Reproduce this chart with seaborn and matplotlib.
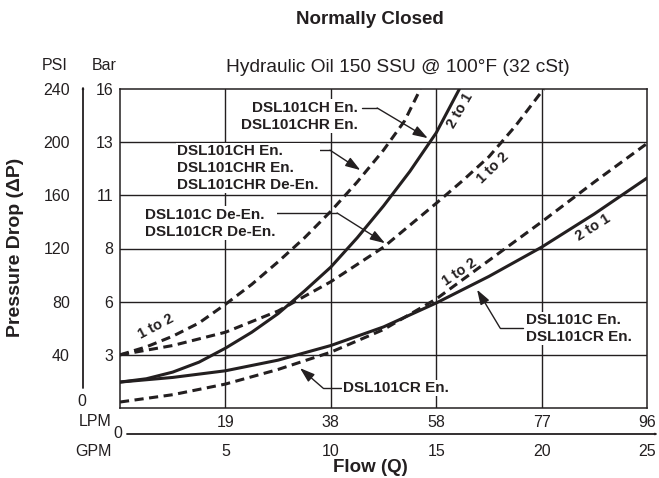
import matplotlib
matplotlib.use("Agg")
import matplotlib.pyplot as plt
import numpy as np
import pandas as pd
import seaborn as sns

# Flow (GPM) vs pressure drop (PSI)
ch_en_gpm = [0, 1.25, 2.5, 3.75, 5, 6.25, 7.5, 8.75, 10, 11.25, 12.5, 13.75, 15, 16.1]
ch_en_psi = [19.5, 22, 27, 34.5, 45, 57, 71, 88, 106, 128, 152, 178, 207, 240]

chr_de_gpm = [0, 1.25, 2.5, 3.75, 5, 6.25, 7.5, 8.75, 10, 11.25, 12.5, 13.5, 14.25]
chr_de_psi = [40, 46, 54, 64, 78, 93, 110, 128, 148, 170, 194, 216, 240]

c_de_gpm = [0, 2.5, 5, 7.5, 10, 12.5, 15, 16.25, 17.5, 18.75, 20.1]
c_de_psi = [40, 47, 57, 73, 95, 121, 154, 171, 189, 212, 240]

c_en_gpm = [0, 2.5, 5, 7.5, 10, 12.5, 15, 17.5, 20, 22.5, 25]
c_en_psi = [19.5, 23, 28, 36, 47, 61, 79, 99, 121, 146, 173]

cr_en_gpm = [0, 2.5, 5, 7.5, 10, 12.5, 15, 17.5, 20, 22.5, 25]
cr_en_psi = [4.5, 10, 18, 29, 42, 59, 82, 111, 140, 170, 199]

psi_ticks = [40, 80, 120, 160, 200, 240]
bar_labels = ["3", "6", "8", "11", "13", "16"]
gpm_ticks = [5, 10, 15, 20, 25]
lpm_labels = ["19", "38", "58", "77", "96"]

W, H = 659, 478
ink = "#231f20"

sns.set_style("white")
plt.rcParams["font.family"] = ["Liberation Sans", "DejaVu Sans"]
plt.rcParams["text.color"] = ink


def fx(px):
    return px / W


def fy(py):
    return 1 - py / H


fig = plt.figure(figsize=(W / 100, H / 100), dpi=100)
ax = fig.add_axes([fx(120), fy(408), 527 / W, 319 / H])
ax.set_xlim(0, 25)
ax.set_ylim(0, 240)

# grid
for g in gpm_ticks[:-1]:
    ax.axvline(g, color=ink, lw=1.0, zorder=1)
for p in psi_ticks[:-1]:
    ax.axhline(p, color=ink, lw=1.0, zorder=1)
for s in ax.spines.values():
    s.set_color(ink)
    s.set_linewidth(1.1)

solid = dict(color=ink, linewidth=2.2, ax=ax, zorder=3)
dashed = dict(color=ink, linewidth=2.2, ax=ax, zorder=3, linestyle=(0, (3, 1.8)))
sns.lineplot(x=ch_en_gpm, y=ch_en_psi, **solid)
sns.lineplot(x=c_en_gpm, y=c_en_psi, **solid)
sns.lineplot(x=chr_de_gpm, y=chr_de_psi, **dashed)
sns.lineplot(x=c_de_gpm, y=c_de_psi, **dashed)
sns.lineplot(x=cr_en_gpm, y=cr_en_psi, **dashed)

# ticks: PSI + Bar on the left, GPM + LPM at the bottom
ax.set_yticks(psi_ticks, labels=[str(p) for p in psi_ticks])
ax.tick_params(axis="y", length=0, pad=36, labelsize=11.5, labelcolor=ink)
sec_y = ax.secondary_yaxis("left")
sec_y.set_yticks(psi_ticks, labels=bar_labels)
sec_y.tick_params(length=0, pad=5, labelsize=11.5, labelcolor=ink)
sec_y.spines["left"].set_visible(False)

ax.set_xticks(gpm_ticks, labels=[str(g) for g in gpm_ticks])
ax.tick_params(axis="x", length=0, pad=26, labelsize=11.5, labelcolor=ink)
sec_x = ax.secondary_xaxis("bottom")
sec_x.set_xticks(gpm_ticks, labels=lpm_labels)
sec_x.tick_params(length=0, pad=5, labelsize=11.5, labelcolor=ink)
sec_x.spines["bottom"].set_visible(False)

# axis arrows
arrow = dict(arrowstyle="-|>,head_length=0.7,head_width=0.3", color=ink, lw=1.3,
             shrinkA=0, shrinkB=0)
fig.add_artist(matplotlib.patches.FancyArrowPatch((fx(83), fy(388)), (fx(83), fy(86)),
                                                  transform=fig.transFigure, **arrow))
fig.add_artist(matplotlib.patches.FancyArrowPatch((fx(127), fy(434)), (fx(658), fy(434)),
                                                  transform=fig.transFigure, **arrow))

# titles and axis captions
fig.text(fx(370), fy(20), "Normally Closed", ha="center", va="center",
         fontsize=13.5, fontweight="bold")
fig.text(fx(398), fy(67), "Hydraulic Oil 150 SSU @ 100°F (32 cSt)", ha="center",
         va="center", fontsize=13.8)
fig.text(fx(55), fy(66), "PSI", ha="center", va="center", fontsize=11.5)
fig.text(fx(104), fy(66), "Bar", ha="center", va="center", fontsize=11.5)
fig.text(fx(82), fy(402), "0", ha="center", va="center", fontsize=11.5)
fig.text(fx(95), fy(421), "LPM", ha="center", va="center", fontsize=11.5)
fig.text(fx(118), fy(434), "0", ha="center", va="center", fontsize=11.5)
fig.text(fx(93), fy(451), "GPM", ha="center", va="center", fontsize=11.5)
fig.text(fx(16), fy(247), "Pressure Drop (ΔP)", ha="center", va="center",
         rotation=90, fontsize=14, fontweight="bold")
fig.text(fx(370), fy(468), "Flow (Q)", ha="center", va="center",
         fontsize=13.5, fontweight="bold")

# callouts
box = dict(facecolor="white", edgecolor="none", pad=1.0)
lbl = dict(fontsize=11, fontweight="bold", va="center", linespacing=1.25, zorder=5,
           bbox=box)
lead = dict(color=ink, lw=1.0, zorder=4)
tip = dict(arrowstyle="-|>,head_length=0.9,head_width=0.3", color=ink, lw=1.0,
           shrinkA=0, shrinkB=0)


def callout(text, x, y, ha, start, elbow, end):
    ax.text(x, y, text, ha=ha, **lbl)
    ax.plot([start[0], elbow[0]], [start[1], elbow[1]], **lead)
    ax.annotate("", xy=end, xytext=elbow, arrowprops=tip, zorder=4)


callout("DSL101CH En.\nDSL101CHR En.", 11.3, 219.5, "right",
        (11.5, 225.7), (12.2, 225.7), (14.6, 203))
callout("DSL101CH En.\nDSL101CHR En.\nDSL101CHR De-En.", 2.7, 180.5, "left",
        (8.25, 194), (9.96, 194), (11.4, 179))
callout("DSL101C De-En.\nDSL101CR De-En.", 1.19, 139, "left",
        (7.15, 146.7), (10.3, 146.7), (12.57, 124))
callout("DSL101C En.\nDSL101CR En.", 19.26, 60, "left",
        (19.1, 60.2), (18.03, 60.2), (16.94, 89))
callout("DSL101CR En.", 10.6, 15, "left",
        (10.5, 15), (9.63, 15), (8.54, 30))

# ratio labels along the curves
ratio = dict(fontsize=10.5, fontweight="bold", ha="center", va="center",
             rotation_mode="anchor", zorder=5)
ax.text(16.15, 224, "2 to 1", rotation=60, **ratio)
ax.text(17.7, 181, "1 to 2", rotation=44, **ratio)
ax.text(22.45, 136, "2 to 1", rotation=32, **ratio)
ax.text(16.1, 102, "1 to 2", rotation=34, **ratio)
ax.text(1.7, 61, "1 to 2", rotation=28, **ratio)

ax.set_xlabel("")
ax.set_ylabel("")

fig.savefig("out.png", dpi=100)
